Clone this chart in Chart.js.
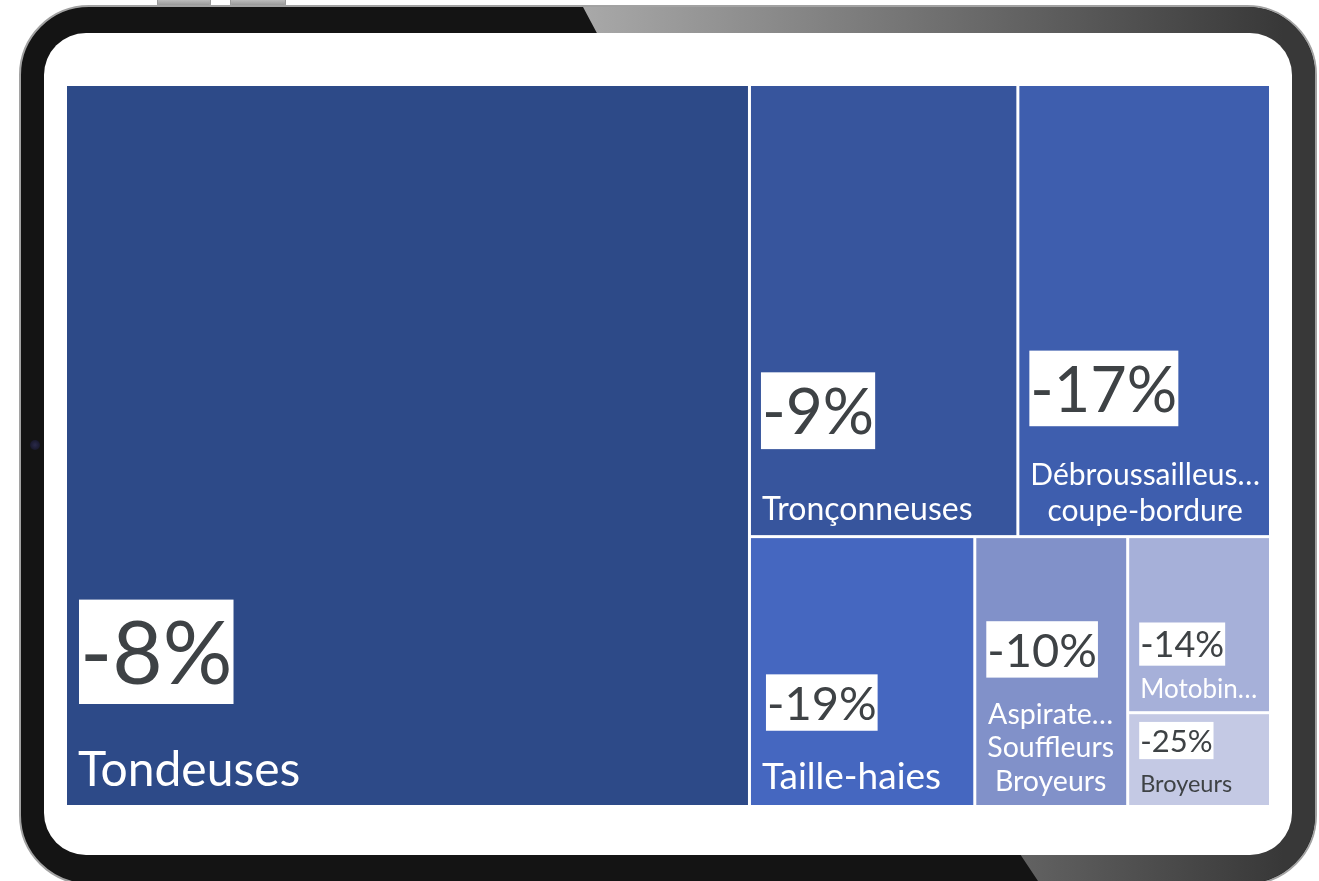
<!DOCTYPE html>
<html lang="fr">
<head>
<meta charset="utf-8">
<title>Motoculture – évolution par famille</title>
<script src="https://cdn.jsdelivr.net/npm/chart.js@4.4.1/dist/chart.umd.min.js"></script>
<style>
  html, body { margin: 0; padding: 0; background: #fff; }
  body { width: 1319px; height: 881px; position: relative; overflow: hidden; font-family: Lato, sans-serif; }
  .btn { position: absolute; top: -3px; height: 10px; border-radius: 3px;
         background: linear-gradient(#d0d0d0, #8c8c8c); box-shadow: 0 0 0 1px #9a9a9a; }
  .frame { position: absolute; left: 19px; top: 5px; width: 1298px; height: 880px; box-sizing: border-box;
           border-radius: 70px; background: #141414; border: 2px solid #a2a2a2; overflow: hidden; }
  .sheen { position: absolute; left: 0; top: 0; width: 1298px; height: 880px;
           background: linear-gradient(90deg, #a9a9a9 560px, #383838 1262px);
           clip-path: polygon(562px 0, 1298px 0, 1298px 880px, 1021px 880px, 981px 820px, 594px 60px); }
  .screen { position: absolute; left: 44px; top: 33px; width: 1248px; height: 822px;
            background: #fff; border-radius: 42px; }
  .cam { position: absolute; left: 30px; top: 440px; width: 10px; height: 10px; border-radius: 50%;
         background: radial-gradient(#2a2a4a, #121220); }
  #wrap { position: absolute; left: 67px; top: 86px; width: 1202px; height: 719px; }
</style>
</head>
<body>
<div class="btn" style="left:158px;width:52px"></div>
<div class="btn" style="left:231px;width:54px"></div>
<div class="frame"><div class="sheen"></div></div>
<div class="cam"></div>
<div class="screen"></div>
<div id="wrap"><canvas id="tree"></canvas></div>

<script>
// families, market size (M€) and year-on-year change (%)
const CATEGORIES = [
  "Tondeuses", "Tronçonneuses", "Débroussailleuses coupe-bordure", "Taille-haies",
  "Aspirateurs Souffleurs Broyeurs", "Motobineuses", "Broyeurs"
];
const MARKET = [568, 140, 131, 70, 47.5, 28.8, 15.1];
const CHANGE = [-8, -9, -17, -19, -10, -14, -25];

const CELL_COLORS = ["#2d4a88", "#37559d", "#3e5eae", "#4567c0", "#8191c9", "#a6b0d9", "#c4c9e4"];
// per-cell label sizing: percent font, name font, distance badge -> first name baseline, badge shift
const LABEL_STYLE = [
  { pct: 87, name: 48, gap: 82, dx: 2 },
  { pct: 64, name: 32, gap: 71, dx: 0 },
  { pct: 63, name: 30, gap: 59, dx: 0 },
  { pct: 47, name: 37, gap: 58, dx: 5 },
  { pct: 47, name: 28.5, gap: 46, dx: 0 },
  { pct: 36, name: 26, gap: 32, dx: 0 },
  { pct: 31, name: 23.5, gap: 33, dx: 0, color: "#3e4245" },
];
const PCT_COLOR = "#3e4245";
const PAD = 11;

// ---- squarified layout ----
function worst(row, side) {
  const s = row.reduce((a, b) => a + b, 0);
  const mx = Math.max(...row), mn = Math.min(...row);
  return Math.max(side * side * mx / (s * s), (s * s) / (side * side * mn));
}

function squarify(areas, rect) {
  const out = [];
  let r = Object.assign({}, rect), i = 0;
  while (i < areas.length) {
    const side = Math.min(r.w, r.h);
    const row = [areas[i]];
    let j = i + 1;
    while (j < areas.length && worst(row.concat(areas[j]), side) <= worst(row, side)) {
      row.push(areas[j]); j++;
    }
    const sum = row.reduce((a, b) => a + b, 0);
    if (r.w >= r.h) {
      const cw = sum / r.h;
      let y = r.y;
      row.forEach(a => { out.push({ x: r.x, y, w: cw, h: a / cw }); y += a / cw; });
      r = { x: r.x + cw, y: r.y, w: r.w - cw, h: r.h };
    } else {
      const rh = sum / r.w;
      let x = r.x;
      row.forEach(a => { out.push({ x, y: r.y, w: a / rh, h: rh }); x += a / rh; });
      r = { x: r.x, y: r.y + rh, w: r.w, h: r.h - rh };
    }
    i = j;
  }
  return out;
}

function fitWord(ctx, word, maxW) {
  if (ctx.measureText(word).width <= maxW) return word;
  let s = word;
  while (s.length > 1 && ctx.measureText(s + "…").width > maxW) s = s.slice(0, -1);
  return s + "…";
}

function wrapName(ctx, text, maxW) {
  const lines = [];
  let cur = "";
  text.split(" ").forEach(w => {
    const t = cur ? cur + " " + w : w;
    if (cur && ctx.measureText(t).width > maxW) { lines.push(cur); cur = fitWord(ctx, w, maxW); }
    else cur = cur ? t : fitWord(ctx, w, maxW);
  });
  if (cur) lines.push(cur);
  return lines;
}

const treemapPlugin = {
  id: "treemapCells",
  afterDatasetsDraw(chart) {
    const { ctx, scales: { x, y } } = chart;
    const left = x.getPixelForValue(0), right = x.getPixelForValue(100);
    const top = y.getPixelForValue(100), bottom = y.getPixelForValue(0);
    const W = right - left, H = bottom - top;
    const total = MARKET.reduce((a, b) => a + b, 0);
    const cells = squarify(MARKET.map(v => v / total * W * H), { x: left, y: top, w: W, h: H });
    const g = 1.5, eps = 0.5;

    ctx.save();
    cells.forEach((c, i) => {
      const x0 = c.x > left + eps ? c.x + g : c.x;
      const x1 = c.x + c.w < right - eps ? c.x + c.w - g : c.x + c.w;
      const y0 = c.y > top + eps ? c.y + g : c.y;
      const y1 = c.y + c.h < bottom - eps ? c.y + c.h - g : c.y + c.h;
      ctx.fillStyle = CELL_COLORS[i];
      ctx.fillRect(x0, y0, x1 - x0, y1 - y0);

      const st = LABEL_STYLE[i];
      // name block, lines centred inside a left-anchored block
      ctx.font = st.name + "px Lato";
      ctx.textBaseline = "alphabetic";
      const lines = wrapName(ctx, CATEGORIES[i], (x1 - x0) - 20);
      const lh = st.name * 1.18;
      const lastBase = y1 - (7 + 0.25 * st.name);
      const firstBase = lastBase - (lines.length - 1) * lh;
      const blockW = Math.max(...lines.map(l => ctx.measureText(l).width));
      ctx.fillStyle = st.color || "#ffffff";
      ctx.textAlign = "center";
      lines.forEach((l, k) => ctx.fillText(l, x0 + PAD + blockW / 2, firstBase + k * lh));

      // change badge
      ctx.font = st.pct + "px Lato";
      const txt = CHANGE[i] + "%";
      const tw = ctx.measureText(txt).width;
      const bh = st.pct * 1.2;
      const bTop = firstBase - st.gap - bh;
      const bx = x0 + PAD - 1 + st.dx;
      ctx.fillStyle = "#ffffff";
      ctx.fillRect(bx, bTop, tw + 2, bh);
      ctx.fillStyle = PCT_COLOR;
      ctx.textAlign = "left";
      ctx.fillText(txt, bx + 1, bTop + st.pct * 0.97);
    });
    ctx.restore();
  },
};

new Chart(document.getElementById("tree"), {
  type: "scatter",
  data: { datasets: [{ data: [] }] },
  options: {
    responsive: true, maintainAspectRatio: false, animation: false, events: [],
    layout: { padding: 0 },
    plugins: { legend: { display: false }, tooltip: { enabled: false } },
    scales: {
      x: { type: "linear", min: 0, max: 100, display: false },
      y: { type: "linear", min: 0, max: 100, display: false },
    },
  },
  plugins: [treemapPlugin],
});
</script>
</body>
</html>
